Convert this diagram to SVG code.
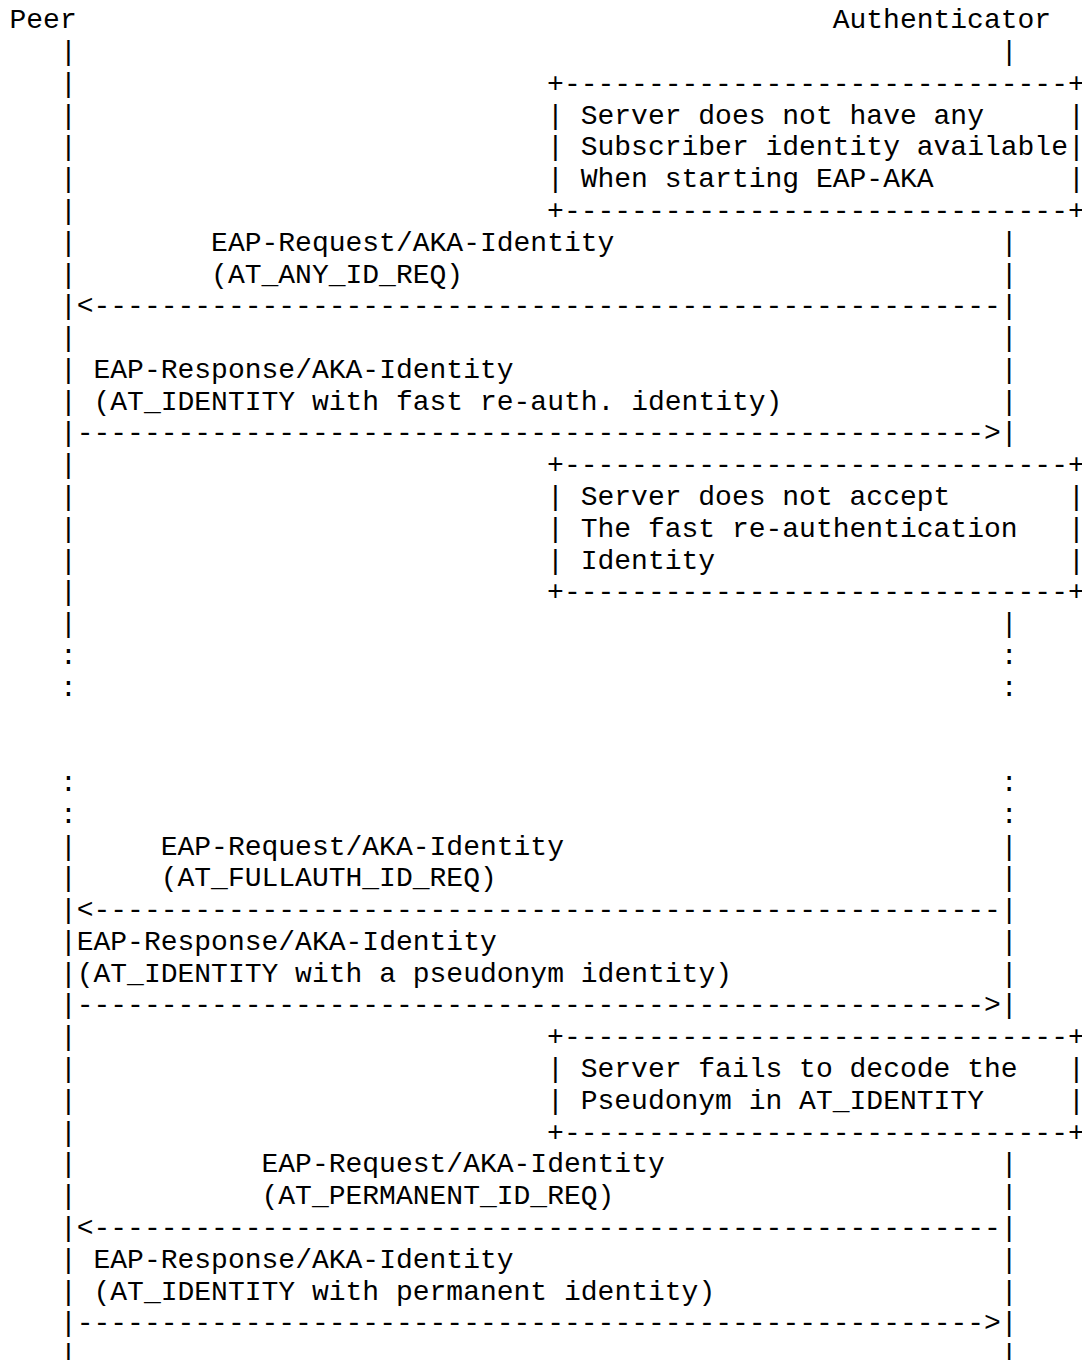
<svg xmlns="http://www.w3.org/2000/svg" width="1082" height="1360" viewBox="0 0 1082 1360">
<style>
text{font-family:"Liberation Mono","DejaVu Sans Mono",monospace;font-size:28px;fill:#000;white-space:pre}
</style>
<rect x="0" y="0" width="1082" height="1360" fill="#fff"/>
<g id="peer">
<text x="9.5" y="28.3">Peer</text>
<text x="59.9" y="60.08">|</text>
<text x="59.9" y="91.86">|</text>
<text x="59.9" y="123.64">|</text>
<text x="59.9" y="155.42">|</text>
<text x="59.9" y="187.2">|</text>
<text x="59.9" y="218.98">|</text>
<text x="59.9" y="250.76">|</text>
<text x="59.9" y="282.54">|</text>
<text x="59.9" y="314.32">|</text>
<text x="59.9" y="346.1">|</text>
<text x="59.9" y="377.88">|</text>
<text x="59.9" y="409.66">|</text>
<text x="59.9" y="441.44">|</text>
<text x="59.9" y="473.22">|</text>
<text x="59.9" y="505">|</text>
<text x="59.9" y="536.78">|</text>
<text x="59.9" y="568.56">|</text>
<text x="59.9" y="600.34">|</text>
<text x="59.9" y="632.12">|</text>
<text x="59.9" y="663.9">:</text>
<text x="59.9" y="695.68">:</text>
<text x="59.9" y="791.02">:</text>
<text x="59.9" y="822.8">:</text>
<text x="59.9" y="854.58">|</text>
<text x="59.9" y="886.36">|</text>
<text x="59.9" y="918.14">|</text>
<text x="59.9" y="949.92">|</text>
<text x="59.9" y="981.7">|</text>
<text x="59.9" y="1013.48">|</text>
<text x="59.9" y="1045.26">|</text>
<text x="59.9" y="1077.04">|</text>
<text x="59.9" y="1108.82">|</text>
<text x="59.9" y="1140.6">|</text>
<text x="59.9" y="1172.38">|</text>
<text x="59.9" y="1204.16">|</text>
<text x="59.9" y="1235.94">|</text>
<text x="59.9" y="1267.72">|</text>
<text x="59.9" y="1299.5">|</text>
<text x="59.9" y="1331.28">|</text>
<text x="59.9" y="1363.06">|</text>
</g>
<g id="authenticator">
<text x="832.7" y="28.3">Authenticator</text>
<text x="1000.7" y="60.08">|</text>
<text x="1000.7" y="250.76">|</text>
<text x="1000.7" y="282.54">|</text>
<text x="1000.7" y="314.32">|</text>
<text x="1000.7" y="346.1">|</text>
<text x="1000.7" y="377.88">|</text>
<text x="1000.7" y="409.66">|</text>
<text x="1000.7" y="441.44">|</text>
<text x="1000.7" y="632.12">|</text>
<text x="1000.7" y="663.9">:</text>
<text x="1000.7" y="695.68">:</text>
<text x="1000.7" y="791.02">:</text>
<text x="1000.7" y="822.8">:</text>
<text x="1000.7" y="854.58">|</text>
<text x="1000.7" y="886.36">|</text>
<text x="1000.7" y="918.14">|</text>
<text x="1000.7" y="949.92">|</text>
<text x="1000.7" y="981.7">|</text>
<text x="1000.7" y="1013.48">|</text>
<text x="1000.7" y="1172.38">|</text>
<text x="1000.7" y="1204.16">|</text>
<text x="1000.7" y="1235.94">|</text>
<text x="1000.7" y="1267.72">|</text>
<text x="1000.7" y="1299.5">|</text>
<text x="1000.7" y="1331.28">|</text>
<text x="1000.7" y="1363.06">|</text>
</g>
<g id="note-no-identity">
<text x="547.1" y="91.86">+------------------------------+</text>
<text x="547.1" y="123.64">|</text><text x="580.7" y="123.64">Server does not have any</text><text x="1067.9" y="123.64">|</text>
<text x="547.1" y="155.42">|</text><text x="580.7" y="155.42">Subscriber identity available</text><text x="1067.9" y="155.42">|</text>
<text x="547.1" y="187.2">|</text><text x="580.7" y="187.2">When starting EAP-AKA</text><text x="1067.9" y="187.2">|</text>
<text x="547.1" y="218.98">+------------------------------+</text>
</g>
<g id="note-reject-fast">
<text x="547.1" y="473.22">+------------------------------+</text>
<text x="547.1" y="505">|</text><text x="580.7" y="505">Server does not accept</text><text x="1067.9" y="505">|</text>
<text x="547.1" y="536.78">|</text><text x="580.7" y="536.78">The fast re-authentication</text><text x="1067.9" y="536.78">|</text>
<text x="547.1" y="568.56">|</text><text x="580.7" y="568.56">Identity</text><text x="1067.9" y="568.56">|</text>
<text x="547.1" y="600.34">+------------------------------+</text>
</g>
<g id="note-pseudonym-fail">
<text x="547.1" y="1045.26">+------------------------------+</text>
<text x="547.1" y="1077.04">|</text><text x="580.7" y="1077.04">Server fails to decode the</text><text x="1067.9" y="1077.04">|</text>
<text x="547.1" y="1108.82">|</text><text x="580.7" y="1108.82">Pseudonym in AT_IDENTITY</text><text x="1067.9" y="1108.82">|</text>
<text x="547.1" y="1140.6">+------------------------------+</text>
</g>
<g id="connectors">
<g id="msg1">
<text x="211.1" y="250.76">EAP-Request/AKA-Identity</text>
<text x="211.1" y="282.54">(AT_ANY_ID_REQ)</text>
<text x="76.7" y="314.32">&lt;------------------------------------------------------</text>
</g>
<g id="msg2">
<text x="93.5" y="377.88">EAP-Response/AKA-Identity</text>
<text x="93.5" y="409.66">(AT_IDENTITY with fast re-auth. identity)</text>
<text x="76.7" y="441.44">------------------------------------------------------&gt;</text>
</g>
<g id="msg3">
<text x="160.7" y="854.58">EAP-Request/AKA-Identity</text>
<text x="160.7" y="886.36">(AT_FULLAUTH_ID_REQ)</text>
<text x="76.7" y="918.14">&lt;------------------------------------------------------</text>
</g>
<g id="msg4">
<text x="76.7" y="949.92">EAP-Response/AKA-Identity</text>
<text x="76.7" y="981.7">(AT_IDENTITY with a pseudonym identity)</text>
<text x="76.7" y="1013.48">------------------------------------------------------&gt;</text>
</g>
<g id="msg5">
<text x="261.5" y="1172.38">EAP-Request/AKA-Identity</text>
<text x="261.5" y="1204.16">(AT_PERMANENT_ID_REQ)</text>
<text x="76.7" y="1235.94">&lt;------------------------------------------------------</text>
</g>
<g id="msg6">
<text x="93.5" y="1267.72">EAP-Response/AKA-Identity</text>
<text x="93.5" y="1299.5">(AT_IDENTITY with permanent identity)</text>
<text x="76.7" y="1331.28">------------------------------------------------------&gt;</text>
</g>
</g>
</svg>
